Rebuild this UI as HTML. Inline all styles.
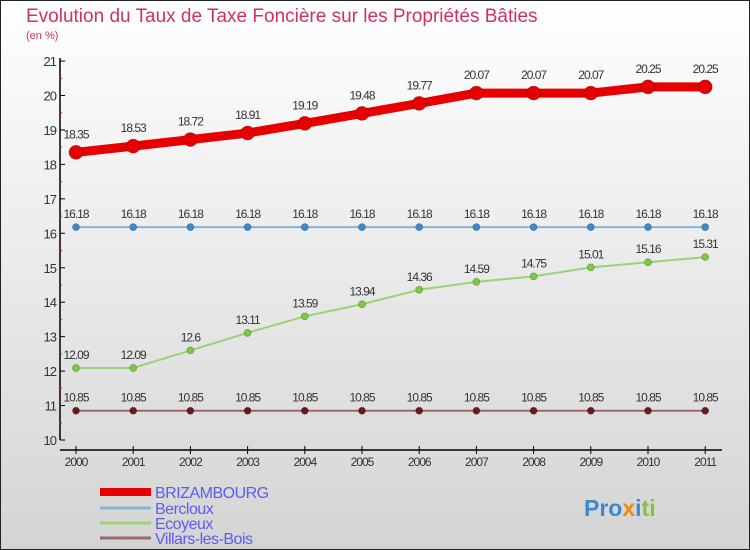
<!DOCTYPE html>
<html><head><meta charset="utf-8"><style>
body{margin:0;width:750px;height:550px;overflow:hidden;font-family:"Liberation Sans",sans-serif}
#c{position:absolute;left:0;top:0;width:748px;height:548px;border:1px solid #222;background:linear-gradient(#ffffff,#d4d4d4)}
</style></head><body>
<div id="c">
<svg id="s" width="750" height="550" style="position:absolute;left:-1px;top:-1px">
<text x="26" y="22" font-size="19" fill="#d0306a">Evolution du Taux de Taxe Foncière sur les Propriétés Bâties</text>
<text x="26" y="39" font-size="11" fill="#d0306a">(en %)</text>
<g id="g"></g>
</svg>
</div>
<script>
const years=[2000,2001,2002,2003,2004,2005,2006,2007,2008,2009,2010,2011];
const briz=[18.35,18.53,18.72,18.91,19.19,19.48,19.77,20.07,20.07,20.07,20.25,20.25];
const berc=[16.18,16.18,16.18,16.18,16.18,16.18,16.18,16.18,16.18,16.18,16.18,16.18];
const ecoy=[12.09,12.09,12.6,13.11,13.59,13.94,14.36,14.59,14.75,15.01,15.16,15.31];
const vill=[10.85,10.85,10.85,10.85,10.85,10.85,10.85,10.85,10.85,10.85,10.85,10.85];
const yTicks=[10,11,12,13,14,15,16,17,18,19,20,21];
const names=["BRIZAMBOURG","Bercloux","Ecoyeux","Villars-les-Bois"];
const g=document.getElementById('g');
const NS="http://www.w3.org/2000/svg";
function X(i){return 76+i*57.2;}
function Y(v){return 440-(v-10)*34.45;}
function mk(t,a,p){const e=document.createElementNS(NS,t);for(const k in a)e.setAttribute(k,a[k]);(p||g).appendChild(e);return e;}
let e;
e=mk('line',{x1:60,y1:58,x2:60,y2:440,stroke:'#000','stroke-width':1.5});


e=mk('line',{x1:60,y1:450,x2:722,y2:450,stroke:'#000','stroke-width':1.5});


yTicks.forEach(v=>{
 mk('line',{x1:60,y1:Y(v),x2:65,y2:Y(v),stroke:'#000'});
 if(v<21)mk('line',{x1:59,y1:Y(v+0.5),x2:62,y2:Y(v+0.5),stroke:'#e00'});
 e=mk('text',{x:56,y:Y(v)+5,'text-anchor':'end','font-size':13,fill:'#333','letter-spacing':'-1'});e.textContent=v;
 
 
});
years.forEach((y,i)=>{
 mk('line',{x1:X(i),y1:446,x2:X(i),y2:454,stroke:'#000'});
 e=mk('text',{x:X(i),y:466,'text-anchor':'middle','font-size':12,fill:'#333','letter-spacing':'-1'});e.textContent=y;
 
 
});
function series(d,col,lw,r,fill,name,lblOff){
 const pts=d.map((v,i)=>X(i)+','+Y(v)).join(' ');
 e=mk('polyline',{points:pts,fill:'none',stroke:col,'stroke-width':lw,'stroke-linejoin':'round'});
 
 
 d.forEach((v,i)=>{
  e=mk('circle',{cx:X(i),cy:Y(v),r:r,fill:fill,stroke:'rgba(0,0,0,0.3)','stroke-width':0.7});
  
  
  e=mk('text',{x:X(i),y:Y(v)-lblOff,'text-anchor':'middle','font-size':12,fill:'#333','letter-spacing':'-1'});e.textContent=String(v);
  
  
 });
}
series(vill,'#9a6a6a',2,3.5,'#6a1a1a','villars',9);
series(ecoy,'#9ad27a',2,3.5,'#7acc3a','ecoyeux',9);
series(berc,'#8ab4d4',2,3.5,'#3a8ad0','bercloux',9);
series(briz,'#e80000',9,7,'#e80000','brizambourg',14);
const lcol=['#e80000','#8ab4d4','#9ad27a','#9a6a6a'],lw=[8,3,3,3],ly=[492,508,523,538];
names.forEach((n,i)=>{
 e=mk('line',{x1:100,y1:ly[i],x2:151,y2:ly[i],stroke:lcol[i],'stroke-width':lw[i]});
 
 
 e=mk('text',{x:155,y:ly[i]+6,'font-size':16,fill:'#5c5cf0','letter-spacing':'-0.5'});e.textContent=n;
 
 
});
e=mk('text',{x:584,y:516,'font-size':23,'font-weight':'bold',fill:'#3a8ad0'});


[['Pro','#3a8ad0'],['x','#f08a00'],['i','#3a8ad0'],['ti','#8ac040']].forEach(p=>{const t=mk('tspan',{fill:p[1]},e);t.textContent=p[0];});
</script>
</body></html>
